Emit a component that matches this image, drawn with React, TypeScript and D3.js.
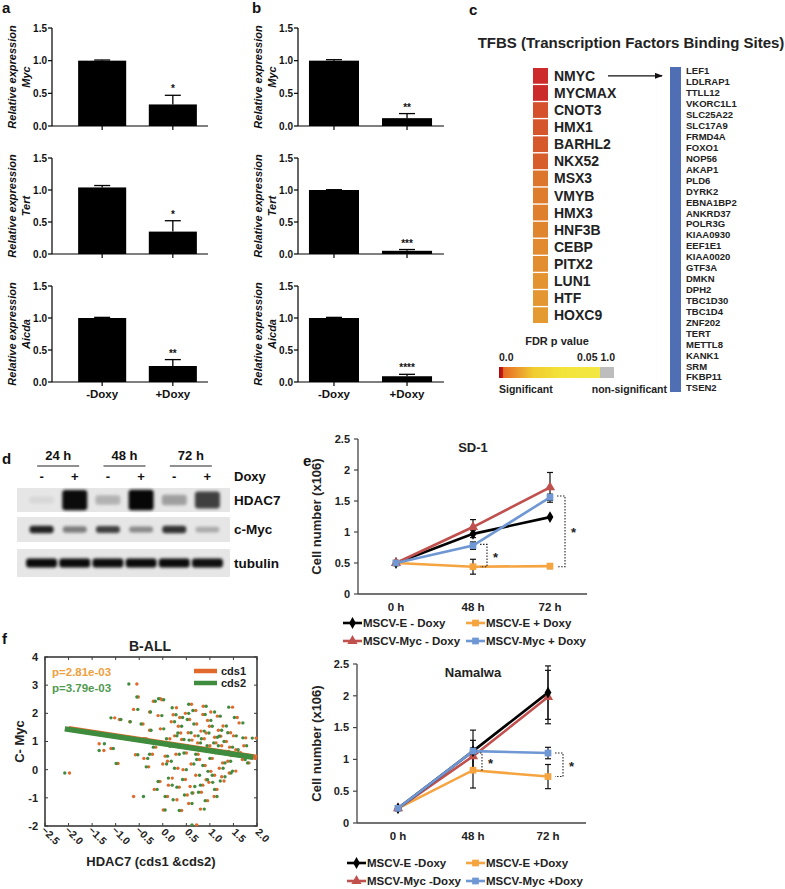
import React from 'react';
import * as d3 from 'd3';

const FONT = "'Liberation Sans', Arial, Helvetica, sans-serif";

// ---------- Panel a / b data ----------
const barCategories = ['-Doxy', '+Doxy'];
const barGenes = ['Myc', 'Tert', 'Aicda'];
const barTicks = [0, 0.5, 1.0, 1.5];
const panelAValues = [[1.0, 0.33], [1.04, 0.35], [1.0, 0.25]];
const panelAErrors = [[0.01, 0.14], [0.03, 0.17], [0.01, 0.1]];
const panelAStars = ['*', '*', '**'];
const panelBValues = [[1.0, 0.12], [1.0, 0.05], [1.0, 0.09]];
const panelBErrors = [[0.015, 0.07], [0.005, 0.02], [0.01, 0.03]];
const panelBStars = ['**', '***', '****'];

// ---------- Panel c data ----------
const tfbsNames = ['NMYC', 'MYCMAX', 'CNOT3', 'HMX1', 'BARHL2', 'NKX52', 'MSX3', 'VMYB', 'HMX3', 'HNF3B', 'CEBP', 'PITX2', 'LUN1', 'HTF', 'HOXC9'];
const tfbsFdr = [0.0005, 0.0006, 0.0032, 0.0036, 0.0038, 0.0042, 0.0062, 0.0068, 0.0071, 0.0074, 0.0079, 0.0083, 0.0087, 0.009, 0.0093];
const targetGenes = ['LEF1', 'LDLRAP1', 'TTLL12', 'VKORC1L1', 'SLC25A22', 'SLC17A9', 'FRMD4A', 'FOXO1', 'NOP56', 'AKAP1', 'PLD6', 'DYRK2', 'EBNA1BP2', 'ANKRD37', 'POLR3G', 'KIAA0930', 'EEF1E1', 'KIAA0020', 'GTF3A', 'DMKN', 'DPH2', 'TBC1D30', 'TBC1D4', 'ZNF202', 'TERT', 'METTL8', 'KANK1', 'SRM', 'FKBP11', 'TSEN2'];

// ---------- Panel d data ----------
const blotLanes = ['24-', '24+', '48-', '48+', '72-', '72+'];
const blotTimes = ['24 h', '48 h', '72 h'];
const blotSigns = ['-', '+', '-', '+', '-', '+'];
const hdac7Intensity = [0.06, 0.95, 0.22, 0.97, 0.3, 0.72];
const cMycIntensity = [0.85, 0.45, 0.72, 0.4, 0.78, 0.25];
const tubulinIntensity = [0.95, 0.95, 0.94, 0.95, 0.95, 0.93];

// ---------- Panel e data ----------
const timeLabels = ['0 h', '48 h', '72 h'];
const cellTicks = [0, 0.5, 1, 1.5, 2, 2.5];
const seriesColors = ['#000000', '#f5a440', '#c0504d', '#6e97d3'];
const seriesSymbols = ['diamond', 'square', 'triangle', 'square'];
const sd1Names = ['MSCV-E - Doxy', 'MSCV-E + Doxy', 'MSCV-Myc - Doxy', 'MSCV-Myc + Doxy'];
const sd1Values = [[0.5, 0.97, 1.24], [0.5, 0.44, 0.45], [0.5, 1.08, 1.72], [0.5, 0.78, 1.56]];
const sd1Errors = [[0, 0.06, 0.03], [0, 0.12, 0.04], [0, 0.12, 0.24], [0, 0.06, 0.05]];
const sd1Brackets = [{ t: '48 h', from: 0.8, to: 0.44 }, { t: '72 h', from: 1.58, to: 0.44 }];
const namNames = ['MSCV-E -Doxy', 'MSCV-E +Doxy', 'MSCV-Myc -Doxy', 'MSCV-Myc +Doxy'];
const namValues = [[0.23, 1.13, 2.05], [0.23, 0.83, 0.73], [0.23, 1.05, 1.98], [0.23, 1.13, 1.1]];
const namErrors = [[0.02, 0.33, 0.42], [0.02, 0.28, 0.19], [0.02, 0.25, 0.42], [0.02, 0.05, 0.09]];
const namBrackets = [{ t: '48 h', from: 1.1, to: 0.83 }, { t: '72 h', from: 1.1, to: 0.73 }];

// ---------- Panel f data ----------
const hdacTicks = [-2.5, -2.0, -1.5, -1.0, -0.5, 0.0, 0.5, 1.0, 1.5, 2.0];
const mycTicks = [-2, -1, 0, 1, 2, 3, 4];
// [HDAC7 cds1, HDAC7 cds2, C-Myc]
const scatterSamples = [
  [-1.98, -2.08, -0.12], [-0.55, -0.72, 3.04], [-0.52, -0.55, 2.58], [-0.62, -0.53, 2.14], [-1.02, -1.10, 1.84],
  [-1.35, -1.24, 0.92], [-1.25, -1.35, 0.68], [-0.95, -0.99, 0.22], [-1.10, -1.05, 0.75], [-0.92, -0.89, 1.78],
  [-0.70, -0.69, 1.70], [-0.58, -0.53, 0.53], [-0.62, -0.41, -0.95], [-0.42, -0.46, 1.62], [-0.28, -0.25, 1.40],
  [-0.20, -0.16, 2.43], [-0.05, -0.09, 2.52], [-0.02, 0.02, 2.48], [-0.28, -0.26, 2.05], [-0.10, -0.02, 1.92],
  [0.05, 0.10, 0.48], [-0.06, -0.10, -0.42], [0.01, 0.05, -1.43], [0.22, 0.15, 0.83], [0.30, 0.22, -1.07],
  [0.29, 0.20, 2.20], [0.33, 0.40, 1.54], [0.40, 0.45, 1.07], [0.43, 0.50, 0.0], [0.50, 0.45, 0.59],
  [0.54, 0.60, 1.31], [0.57, 0.52, 1.78], [0.61, 0.55, 2.32], [0.64, 0.62, -0.83], [0.72, 0.62, -1.96],
  [0.74, 0.80, 0.95], [0.78, 0.72, 0.36], [0.81, 0.88, 1.37], [0.85, 0.90, 1.96], [0.92, 0.95, -0.36],
  [0.95, 1.00, 0.71], [0.99, 1.05, 1.54], [1.02, 0.96, -0.06], [1.09, 1.15, -0.95], [1.13, 1.08, 0.95],
  [1.16, 1.22, 1.90], [1.23, 1.20, 1.19], [1.27, 1.32, 0.24], [1.34, 1.40, 0.65], [1.41, 1.45, -0.12],
  [1.44, 1.38, 1.31], [1.48, 1.40, 2.22], [1.55, 1.60, 0.71], [1.62, 1.70, 1.66], [1.69, 1.75, 0.36],
  [1.76, 1.70, 1.13], [1.83, 1.80, 0.24], [1.98, 1.90, 1.12], [1.95, 1.88, 0.42], [0.10, 0.18, 0.30],
  [0.20, 0.12, -0.30], [0.35, 0.30, -0.62], [0.48, 0.42, -0.35], [0.58, 0.68, -0.60], [0.70, 0.78, -0.20],
  [0.85, 0.80, -0.55], [0.98, 1.06, -0.45], [1.10, 1.05, -0.20], [1.20, 1.28, 0.05], [1.30, 1.22, -0.40],
  [1.45, 1.50, 0.50], [1.55, 1.48, -0.05], [0.15, 0.08, 1.10], [0.25, 0.30, 1.20], [0.38, 0.32, 1.30],
  [0.45, 0.52, 0.85], [0.62, 0.56, 1.05], [0.68, 0.75, 1.20], [0.75, 0.70, 0.55], [0.88, 0.82, 1.10],
  [0.92, 0.98, 1.30], [1.05, 1.00, 0.40], [1.12, 1.18, 0.60], [1.25, 1.18, 0.85], [1.35, 1.30, 1.00],
  [1.50, 1.56, 1.20], [1.65, 1.60, 0.60], [0.05, -0.02, 0.95], [-0.15, -0.20, 0.80], [-0.30, -0.35, 0.10],
  [-0.40, -0.32, 0.40], [-0.18, -0.12, -0.70], [0.10, 0.05, -0.95], [0.40, 0.35, -1.45], [0.55, 0.62, -1.20],
  [0.80, 0.88, -1.40], [0.95, 0.90, -1.10], [1.15, 1.10, -0.70], [0.28, 0.35, 0.55], [0.60, 0.66, 0.20],
  [0.90, 0.85, 0.15], [1.38, 1.44, 0.30], [0.18, 0.25, 1.70], [0.48, 0.55, 2.00], [0.72, 0.66, 1.62],
  [1.02, 1.10, 2.05], [1.28, 1.35, 1.55], [1.58, 1.52, 1.85], [-0.35, -0.40, 1.10], [-0.22, -0.28, 0.55],
  [0.00, 0.08, 0.20], [0.32, 0.25, 0.05], [0.66, 0.60, 0.75], [1.00, 0.94, 0.85], [1.18, 1.25, 1.40],
  [1.42, 1.48, 0.80], [1.72, 1.78, 0.85], [0.12, 0.20, -0.55], [0.52, 0.46, -0.90], [0.82, 0.76, -0.80],
  [1.25, 1.32, -0.25], [0.36, 0.42, 1.85], [0.86, 0.92, 2.25], [0.70, 0.64, 2.10], [-0.05, 0.02, 1.45],
  [0.22, 0.28, 1.95], [0.95, 1.02, 1.75], [1.10, 1.16, 1.15],
];
const fitCds1 = { slope: -0.255, intercept: 0.945, xMin: -2.0, xMax: 2.0 };
const fitCds2 = { slope: -0.252, intercept: 0.925, xMin: -2.08, xMax: 1.92 };
const pValues = ['p=2.81e-03', 'p=3.79e-03'];
const cdsColors = ['#e2692c', '#3f8c3f'];
const pColors = ['#f0a040', '#4f9a4f'];

const bold = { fontFamily: FONT, fontWeight: 700 } as const;

function PanelLabel({ x, y, t }: { x: number; y: number; t: string }) {
  return <text x={x} y={y} style={bold} fontSize={15} fill="#111">{t}</text>;
}

function BarChart(props: any) {
  const { axisX, axisEnd, range, padIn, padOut, y0, yTop, value, error, star, gene, lab1, lab2, showX } = props;
  const x = d3.scaleBand().domain(barCategories).range(range).paddingInner(padIn).paddingOuter(padOut);
  const y = d3.scaleLinear().domain([0, 1.5]).range([y0, yTop]);
  const cy = (y0 + yTop) / 2;
  return (
    <g>
      <text transform={`translate(${lab1},${cy}) rotate(-90)`} textAnchor="middle" style={{ ...bold, fontStyle: 'italic' }} fontSize={11} fill="#111">Relative expression</text>
      <text transform={`translate(${lab2},${cy}) rotate(-90)`} textAnchor="middle" style={{ ...bold, fontStyle: 'italic' }} fontSize={11} fill="#111">{gene}</text>
      {barCategories.map((c, i) => (
        <g key={c}>
          <rect x={x(c)} y={y(value[i])} width={x.bandwidth()} height={y0 - y(value[i])} fill="#000" />
          <line x1={x(c)! + x.bandwidth() / 2} x2={x(c)! + x.bandwidth() / 2} y1={y(value[i])} y2={y(value[i] + error[i])} stroke="#000" strokeWidth={1.3} />
          <line x1={x(c)! + x.bandwidth() / 2 - 8} x2={x(c)! + x.bandwidth() / 2 + 8} y1={y(value[i] + error[i])} y2={y(value[i] + error[i])} stroke="#000" strokeWidth={1.3} />
          <line x1={x(c)! + x.bandwidth() / 2} x2={x(c)! + x.bandwidth() / 2} y1={y0} y2={y0 + 4} stroke="#000" strokeWidth={1.2} />
          {showX && <text x={x(c)! + x.bandwidth() / 2} y={y0 + 16} textAnchor="middle" style={bold} fontSize={11.5} fill="#111">{c}</text>}
        </g>
      ))}
      <text x={x('+Doxy')! + x.bandwidth() / 2} y={y(value[1] + error[1]) - 3} textAnchor="middle" style={bold} fontSize={10} fill="#111">{star}</text>
      <line x1={axisX} x2={axisX} y1={yTop} y2={y0} stroke="#000" strokeWidth={1.2} />
      <line x1={axisX} x2={axisEnd} y1={y0} y2={y0} stroke="#000" strokeWidth={1.2} />
      {barTicks.map((t) => (
        <g key={t}>
          <line x1={axisX - 4} x2={axisX} y1={y(t)} y2={y(t)} stroke="#000" strokeWidth={1.2} />
          <text x={axisX - 5} y={y(t)} dy="0.35em" textAnchor="end" style={bold} fontSize={10} fill="#111">{d3.format('.1f')(t)}</text>
        </g>
      ))}
    </g>
  );
}

function PanelAB() {
  const rowsY = [[126, 28], [254, 158], [382, 286]];
  return (
    <g>
      <PanelLabel x={2} y={13} t="a" />
      <PanelLabel x={252} y={13} t="b" />
      {barGenes.map((g, i) => (
        <BarChart key={'a' + g} axisX={52} axisEnd={208} range={[64, 211]} padIn={0.32} padOut={0.2}
          y0={rowsY[i][0]} yTop={rowsY[i][1]} value={panelAValues[i]} error={panelAErrors[i]} star={panelAStars[i]}
          gene={g} lab1={16} lab2={30} showX={i === 2} />
      ))}
      {barGenes.map((g, i) => (
        <BarChart key={'b' + g} axisX={298} axisEnd={444} range={[298, 443]} padIn={0.315} padOut={0.15}
          y0={rowsY[i][0]} yTop={rowsY[i][1]} value={panelBValues[i]} error={panelBErrors[i]} star={panelBStars[i]}
          gene={g} lab1={262} lab2={276} showX={i === 2} />
      ))}
    </g>
  );
}

function PanelC() {
  const color = d3.scaleLinear<string>().domain([0.0005, 0.004, 0.0093]).range(['#cc2a2b', '#d75c2b', '#e49a31']);
  const rowY = d3.scaleBand().domain(tfbsNames).range([68, 323]).paddingInner(0.08);
  const geneY = d3.scalePoint().domain(targetGenes).range([71, 388]);
  const nmycY = rowY('NMYC')! + rowY.bandwidth() / 2;
  return (
    <g>
      <defs>
        <linearGradient id="fdrGrad" x1="0" x2="1" y1="0" y2="0">
          <stop offset="0%" stopColor="#a80c0c" />
          <stop offset="3%" stopColor="#c41a14" />
          <stop offset="4%" stopColor="#e66a26" />
          <stop offset="30%" stopColor="#f0cc30" />
          <stop offset="55%" stopColor="#f3e43a" />
          <stop offset="87.5%" stopColor="#f2e842" />
          <stop offset="87.5%" stopColor="#bdbdbd" />
          <stop offset="100%" stopColor="#bdbdbd" />
        </linearGradient>
        <marker id="arrowHead" markerWidth="8" markerHeight="6" refX="7" refY="3" orient="auto" markerUnits="userSpaceOnUse">
          <path d="M0,0 L8,3 L0,6 Z" fill="#111" />
        </marker>
      </defs>
      <PanelLabel x={469} y={15} t="c" />
      <text x={631} y={48} textAnchor="middle" style={bold} fontSize={15} fill="#222">TFBS (Transcription Factors Binding Sites)</text>
      {tfbsNames.map((n, i) => (
        <g key={n}>
          <rect x={533} y={rowY(n)} width={15} height={rowY.bandwidth()} fill={color(tfbsFdr[i])} />
          <text x={554} y={rowY(n)! + rowY.bandwidth() / 2} dy="0.36em" style={bold} fontSize={14} fill="#222">{n}</text>
        </g>
      ))}
      <line x1={608} x2={662} y1={nmycY} y2={nmycY} stroke="#111" strokeWidth={1.3} markerEnd="url(#arrowHead)" />
      <rect x={670} y={67} width={11} height={325} fill="#4f6eb3" />
      {targetGenes.map((g) => (
        <text key={g} x={686} y={geneY(g)} dy="0.36em" style={bold} fontSize={9.5} fill="#222">{g}</text>
      ))}
      <text x={557} y={345} textAnchor="middle" style={bold} fontSize={11} fill="#222">FDR p value</text>
      <text x={499} y={361} style={bold} fontSize={10.5} fill="#222">0.0</text>
      <text x={615} y={361} textAnchor="end" style={bold} fontSize={10.5} fill="#222">0.05 1.0</text>
      <rect x={499} y={367} width={115} height={11} fill="url(#fdrGrad)" />
      <text x={499} y={393} style={bold} fontSize={10.5} fill="#222">Significant</text>
      <text x={667} y={393} textAnchor="end" style={bold} fontSize={10.5} fill="#222">non-significant</text>
    </g>
  );
}

function PanelD() {
  const x = d3.scaleBand().domain(blotLanes).range([25, 224]);
  const cx = (l: string) => x(l)! + x.bandwidth() / 2;
  const panels = [
    { name: 'HDAC7', y: 488, h: 24, vals: hdac7Intensity, bandH: (v: number) => 6 + 15 * v, bandW: 25 },
    { name: 'c-Myc', y: 517, h: 25, vals: cMycIntensity, bandH: (v: number) => 5 + 3 * v, bandW: 24 },
    { name: 'tubulin', y: 549, h: 28, vals: tubulinIntensity, bandH: () => 9, bandW: 31 },
  ];
  return (
    <g>
      <defs>
        <filter id="blur2" x="-30%" y="-60%" width="160%" height="220%">
          <feGaussianBlur stdDeviation="1.8" />
        </filter>
      </defs>
      <PanelLabel x={2} y={464} t="d" />
      {blotTimes.map((t, i) => {
        const c = (cx(blotLanes[2 * i]) + cx(blotLanes[2 * i + 1])) / 2;
        return (
          <g key={t}>
            <text x={c} y={460} textAnchor="middle" style={bold} fontSize={13} fill="#111">{t}</text>
            <line x1={c - 21} x2={c + 21} y1={466} y2={466} stroke="#222" strokeWidth={1.2} />
          </g>
        );
      })}
      {blotLanes.map((l, i) => (
        <text key={l} x={cx(l)} y={481} textAnchor="middle" style={bold} fontSize={13} fill="#111">{blotSigns[i]}</text>
      ))}
      <text x={234} y={481} style={bold} fontSize={13} fill="#111">Doxy</text>
      {panels.map((p) => (
        <g key={p.name}>
          <rect x={17} y={p.y} width={213} height={p.h} fill="#e6e6e6" />
          {blotLanes.map((l, i) => (
            <rect key={l} x={cx(l) - p.bandW / 2} y={p.y + p.h / 2 - p.bandH(p.vals[i]) / 2} width={p.bandW}
              height={p.bandH(p.vals[i])} rx={3} fill="#000" opacity={p.vals[i]} filter="url(#blur2)" />
          ))}
          <text x={234} y={p.y + p.h / 2} dy="0.36em" style={bold} fontSize={13.5} fill="#111">{p.name}</text>
        </g>
      ))}
    </g>
  );
}

function Marker({ kind, x, y, color, size }: { kind: string; x: number; y: number; color: string; size: number }) {
  const sym = kind === 'diamond' ? d3.symbolDiamond : kind === 'triangle' ? d3.symbolTriangle : d3.symbolSquare;
  const d = d3.symbol().type(sym).size(size)()!;
  return <path d={d} transform={`translate(${x},${y})`} fill={color} />;
}

function LineChart(props: any) {
  const { title, titleY, axisX, axisEnd, xRange, y0, yTop, values, errors, names, brackets, order, legendY, legendX, labelX } = props;
  const x = d3.scalePoint().domain(timeLabels).range(xRange);
  const y = d3.scaleLinear().domain([0, 2.5]).range([y0, yTop]);
  const line = d3.line<number>().x((_, i) => x(timeLabels[i])!).y((v) => y(v));
  const symSize = (k: string) => (k === 'diamond' ? 40 : 45);
  return (
    <g>
      <text x={(xRange[0] + xRange[1]) / 2} y={titleY} textAnchor="middle" style={bold} fontSize={13} fill="#222">{title}</text>
      <text transform={`translate(${labelX},${(y0 + yTop) / 2}) rotate(-90)`} textAnchor="middle" style={bold} fontSize={13} fill="#222">Cell number (x106)</text>
      <line x1={axisX} x2={axisX} y1={yTop} y2={y0} stroke="#444" strokeWidth={1.3} />
      <line x1={axisX} x2={axisEnd} y1={y0} y2={y0} stroke="#444" strokeWidth={1.3} />
      {cellTicks.map((t) => (
        <g key={t}>
          <line x1={axisX - 4} x2={axisX} y1={y(t)} y2={y(t)} stroke="#444" strokeWidth={1.2} />
          <text x={axisX - 8} y={y(t)} dy="0.35em" textAnchor="end" style={bold} fontSize={11} fill="#222">{String(t)}</text>
        </g>
      ))}
      {timeLabels.map((t) => (
        <text key={t} x={x(t)} y={y0 + 17} textAnchor="middle" style={bold} fontSize={11.5} fill="#222">{t}</text>
      ))}
      {order.map((s: number) => (
        <path key={'l' + s} d={line(values[s])!} fill="none" stroke={seriesColors[s]} strokeWidth={2.6} />
      ))}
      {order.map((s: number) => (
        <g key={'e' + s}>
          {values[s].map((v: number, i: number) => errors[s][i] > 0.03 ? (
            <g key={i}>
              <line x1={x(timeLabels[i])} x2={x(timeLabels[i])} y1={y(v - errors[s][i])} y2={y(v + errors[s][i])} stroke="#111" strokeWidth={1.2} />
              <line x1={x(timeLabels[i])! - 3} x2={x(timeLabels[i])! + 3} y1={y(v - errors[s][i])} y2={y(v - errors[s][i])} stroke="#111" strokeWidth={1.2} />
              <line x1={x(timeLabels[i])! - 3} x2={x(timeLabels[i])! + 3} y1={y(v + errors[s][i])} y2={y(v + errors[s][i])} stroke="#111" strokeWidth={1.2} />
            </g>
          ) : null)}
        </g>
      ))}
      {order.map((s: number) => (
        <g key={'m' + s}>
          {values[s].map((v: number, i: number) => (
            <Marker key={i} kind={seriesSymbols[s]} x={x(timeLabels[i])!} y={y(v)} color={seriesColors[s]} size={symSize(seriesSymbols[s])} />
          ))}
        </g>
      ))}
      {brackets.map((b: any) => {
        const bx = x(b.t)!;
        const vx = bx + b.dx;
        return (
          <g key={b.t}>
            <path d={`M${bx + 7},${y(b.from)} H${vx} V${y(b.to)} H${bx + 7}`} fill="none" stroke="#222" strokeWidth={1.1} strokeDasharray="1.5,1.5" />
            <text x={vx + 6} y={(y(b.from) + y(b.to)) / 2 + 6} style={bold} fontSize={13} fill="#222">*</text>
          </g>
        );
      })}
      {names.map((n: string, s: number) => {
        const lx = legendX[s % 2];
        const ly = legendY[Math.floor(s / 2)];
        return (
          <g key={n}>
            <line x1={lx} x2={lx + 19} y1={ly} y2={ly} stroke={seriesColors[s]} strokeWidth={2.6} />
            <Marker kind={seriesSymbols[s]} x={lx + 9.5} y={ly} color={seriesColors[s]} size={symSize(seriesSymbols[s])} />
            <text x={lx + 20} y={ly} dy="0.36em" style={bold} fontSize={11.5} fill="#222">{n}</text>
          </g>
        );
      })}
    </g>
  );
}

function PanelE() {
  return (
    <g>
      <PanelLabel x={303} y={466} t="e" />
      <LineChart title="SD-1" titleY={452} axisX={358} axisEnd={587} xRange={[396, 550]} y0={594} yTop={439}
        values={sd1Values} errors={sd1Errors} names={sd1Names}
        brackets={sd1Brackets.map((b, i) => ({ ...b, dx: i === 0 ? 14 : 15 }))}
        order={[1, 0, 2, 3]} legendY={[623, 641]} legendX={[343, 466]} labelX={321} />
      <LineChart title="Namalwa" titleY={677} axisX={357} axisEnd={586} xRange={[398, 548]} y0={823} yTop={664}
        values={namValues} errors={namErrors} names={namNames}
        brackets={namBrackets.map((b, i) => ({ ...b, dx: i === 0 ? 9 : 15 }))}
        order={[1, 2, 0, 3]} legendY={[863, 881]} legendX={[347, 466]} labelX={321} />
    </g>
  );
}

function PanelF() {
  const x = d3.scaleLinear().domain([-2.5, 2.0]).range([45, 257]);
  const y = d3.scaleLinear().domain([-2, 4]).range([826, 657]);
  const fits = [fitCds1, fitCds2];
  return (
    <g>
      <PanelLabel x={2} y={644} t="f" />
      <text x={150} y={651} textAnchor="middle" style={bold} fontSize={14} fill="#222">B-ALL</text>
      <rect x={45} y={657} width={212} height={169} fill="#fff" stroke="#3a3a3a" strokeWidth={1.6} />
      {hdacTicks.map((t) => (
        <g key={t}>
          <line x1={x(t)} x2={x(t)} y1={826} y2={823} stroke="#3a3a3a" />
          <line x1={x(t)} x2={x(t)} y1={657} y2={660} stroke="#3a3a3a" />
          <text transform={`translate(${x(t) + 3},${838}) rotate(45)`} textAnchor="middle" style={bold} fontSize={10.5} fill="#222">{d3.format('.1f')(t)}</text>
        </g>
      ))}
      {mycTicks.map((t) => (
        <g key={t}>
          <line x1={45} x2={48} y1={y(t)} y2={y(t)} stroke="#3a3a3a" />
          <line x1={257} x2={254} y1={y(t)} y2={y(t)} stroke="#3a3a3a" />
          <text x={38} y={y(t)} dy="0.36em" textAnchor="end" style={bold} fontSize={11} fill="#222">{t}</text>
        </g>
      ))}
      <text transform={`translate(24,${(657 + 826) / 2}) rotate(-90)`} textAnchor="middle" style={bold} fontSize={13} fill="#222">C- Myc</text>
      <text x={151} y={866} textAnchor="middle" style={bold} fontSize={13} fill="#222">HDAC7 (cds1 &amp;cds2)</text>
      {scatterSamples.map((s, i) => (
        <circle key={'o' + i} cx={x(s[0])} cy={y(s[2])} r={1.7} fill={cdsColors[0]} />
      ))}
      {scatterSamples.map((s, i) => (
        <circle key={'g' + i} cx={x(s[1])} cy={y(s[2])} r={1.7} fill={cdsColors[1]} />
      ))}
      {fits.map((f, i) => (
        <line key={i} x1={x(f.xMin)} x2={x(f.xMax)} y1={y(f.intercept + f.slope * f.xMin)} y2={y(f.intercept + f.slope * f.xMax)}
          stroke={cdsColors[i]} strokeWidth={5.5} />
      ))}
      {pValues.map((p, i) => (
        <text key={p} x={52} y={676 + i * 16} style={bold} fontSize={11.5} fill={pColors[i]}>{p}</text>
      ))}
      {['cds1', 'cds2'].map((n, i) => (
        <g key={n}>
          <line x1={194} x2={217} y1={671 + i * 12} y2={671 + i * 12} stroke={cdsColors[i]} strokeWidth={4.5} />
          <text x={221} y={671 + i * 12} dy="0.36em" style={bold} fontSize={11} fill="#222">{n}</text>
        </g>
      ))}
    </g>
  );
}

export default function App() {
  return (
    <div style={{ position: 'absolute', left: 0, top: 0 }}>
      <svg width={785} height={889} viewBox="0 0 785 889" style={{ display: 'block', background: '#fff' }}>
        <rect width={785} height={889} fill="#fff" />
        <PanelAB />
        <PanelC />
        <PanelD />
        <PanelE />
        <PanelF />
      </svg>
    </div>
  );
}
